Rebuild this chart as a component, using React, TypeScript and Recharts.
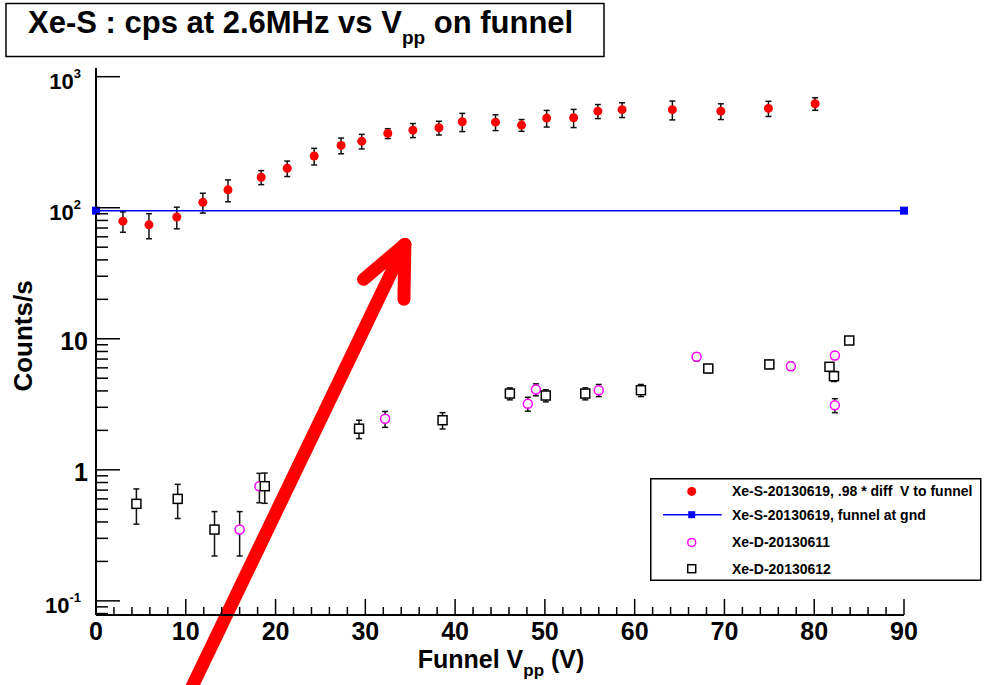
import React from 'react';
import { ScatterChart, Scatter, XAxis, YAxis, ErrorBar, ReferenceLine, Legend } from 'recharts';

const FONT = '"Liberation Sans", Arial, Helvetica, sans-serif';

// Xe-S-20130619, .98 * diff V to funnel
const redV = [3.0, 5.9, 9.0, 11.9, 14.7, 18.4, 21.3, 24.3, 27.3, 29.6, 32.5, 35.3, 38.2, 40.8, 44.5, 47.4, 50.2, 53.2, 55.9, 58.6, 64.2, 69.6, 74.9, 80.1];
const redCps = [79, 74, 85, 110, 137, 171, 200, 248, 299, 322, 369, 391, 408, 453, 450, 427, 483, 486, 546, 560, 560, 546, 573, 622];
const redErr = [14, 16, 16, 19, 26, 21, 27, 36, 41, 41, 32, 48, 49, 72, 62, 44, 70, 77, 67, 72, 92, 75, 76, 68];

// Xe-S-20130619, funnel at gnd
const gndV = [0, 90];
const gndCps = [95, 95];

// Xe-D-20130611
const d11V = [16.0, 18.2, 32.2, 48.1, 49.0, 56.0, 66.9, 77.4, 82.3, 82.3];
const d11Cps = [0.35, 0.75, 2.45, 3.19, 4.1, 4.05, 7.29, 6.18, 7.46, 3.11];
const d11Err = [0.13, 0.19, 0.34, 0.39, 0.43, 0.43, 0.5, 0.43, 0.5, 0.38];

// Xe-D-20130612
const d12V = [4.5, 9.1, 13.2, 18.8, 29.3, 38.6, 46.1, 50.1, 54.5, 60.7, 68.2, 75.0, 81.7, 82.2, 83.9];
const d12Cps = [0.55, 0.6, 0.35, 0.75, 2.06, 2.39, 3.82, 3.69, 3.82, 4.05, 5.93, 6.37, 6.11, 5.18, 9.7];
const d12Err = [0.165, 0.175, 0.13, 0.195, 0.33, 0.34, 0.4, 0.39, 0.4, 0.43, 0.42, 0.45, 0.43, 0.46, 0.5];

const legendLabels = [
  'Xe-S-20130619, .98 * diff  V to funnel',
  'Xe-S-20130619, funnel at gnd',
  'Xe-D-20130611',
  'Xe-D-20130612',
];

// axis ticks
const xMajor = [0, 10, 20, 30, 40, 50, 60, 70, 80, 90];
const xTicks = Array.from({ length: 46 }, (_, i) => i * 2);
const yMajor = [0.1, 1, 10, 100, 1000];
const yMajorBase = ['10', '1', '10', '10', '10'];
const yMajorExp = ['-1', '', '', '2', '3'];
const yTicks = [0.01, 0.1, 1, 10, 100]
  .flatMap((d) => [1, 2, 3, 4, 5, 6, 7, 8, 9].map((m) => m * d))
  .filter((v) => v >= 0.078 && v <= 100)
  .concat([1000]);

// hand-drawn arrow annotation (data coords)
const arrowTail = { x: 10.0, y: 0.0176 };
const arrowTip = { x: 34.4, y: 52.5 };
const arrowWingL = { x: 29.8, y: 28.4 };
const arrowWingR = { x: 34.3, y: 20.0 };

const toRows = (xs: number[], ys: number[], es?: number[]) =>
  xs.map((x, i) => ({ x, y: ys[i], err: es ? es[i] : 0 }));

const redData = toRows(redV, redCps, redErr);
const gndData = toRows(gndV, gndCps);
const d11Data = toRows(d11V, d11Cps, d11Err);
const d12Data = toRows(d12V, d12Cps, d12Err);

const RedDot = (p: any) => <circle cx={p.cx} cy={p.cy} r={4.5} fill="#ff0000" />;
const BlueSquare = (p: any) => <rect x={p.cx - 4} y={p.cy - 4} width={8} height={8} fill="#0000ff" />;
const OpenCircle = (p: any) => (
  <circle cx={p.cx} cy={p.cy} r={4.5} fill="#fff" stroke="#ff00ff" strokeWidth={1.5} />
);
const OpenSquare = (p: any) => (
  <rect x={p.cx - 4.5} y={p.cy - 4.5} width={9} height={9} fill="#fff" stroke="#000" strokeWidth={1.5} />
);

function XTick(props: any) {
  const { x, y, payload } = props;
  const major = xMajor.includes(payload.value);
  return (
    <g>
      <line x1={x} y1={y} x2={x} y2={y - (major ? 16 : 8)} stroke="#000" strokeWidth={1.5} />
      {major && (
        <text x={x} y={y + 25} textAnchor="middle" fontSize={25} fontWeight="bold" fontFamily={FONT} fill="#000">
          {payload.value}
        </text>
      )}
    </g>
  );
}

function YTick(props: any) {
  const { x, y, payload } = props;
  const i = yMajor.indexOf(payload.value);
  const major = i >= 0;
  return (
    <g>
      <line x1={x} y1={y} x2={x + (major ? 24 : 12)} y2={y} stroke="#000" strokeWidth={1.5} />
      {major && yMajorExp[i] === '' && (
        <text x={x - 8} y={y + 11} textAnchor="end" fontSize={25} fontWeight="bold" fontFamily={FONT} fill="#000">
          {yMajorBase[i]}
        </text>
      )}
      {major && yMajorExp[i] !== '' && (
        <text x={x - 15} y={y + 12} textAnchor="end" fontSize={22} fontWeight="bold" fontFamily={FONT} fill="#000">
          {yMajorBase[i]}
          <tspan dy={-11} fontSize={13}>{yMajorExp[i]}</tspan>
        </text>
      )}
    </g>
  );
}

function LegendBox() {
  const rowY = [13.4, 36.7, 64.4, 90.7];
  return (
    <svg width={332} height={104} style={{ display: 'block' }}>
      <rect x={0.75} y={0.75} width={330} height={101.5} fill="#fff" stroke="#000" strokeWidth={1.5} />
      <circle cx={41.7} cy={rowY[0]} r={4.5} fill="#ff0000" />
      <line x1={13} y1={rowY[1]} x2={71.7} y2={rowY[1]} stroke="#0000ff" strokeWidth={1.5} />
      <rect x={38.2} y={rowY[1] - 3.5} width={7} height={7} fill="#0000ff" />
      <circle cx={41.7} cy={rowY[2]} r={4} fill="#fff" stroke="#ff00ff" strokeWidth={1.5} />
      <rect x={37.7} y={rowY[3] - 4} width={8} height={8} fill="#fff" stroke="#000" strokeWidth={1.5} />
      {legendLabels.map((t, i) => (
        <text key={t} x={82} y={rowY[i] + 5} fontSize={14} fontWeight="bold" fontFamily={FONT} fill="#000" style={{ whiteSpace: 'pre' }}>
          {t}
        </text>
      ))}
    </svg>
  );
}

export default function App() {
  return (
    <div style={{ position: 'absolute', left: 0, top: 0, width: 984, height: 685, background: '#fff' }}>
      <ScatterChart width={984} height={685} margin={{ top: 68, right: 80, bottom: 30, left: 36 }}>
        <XAxis
          type="number"
          dataKey="x"
          domain={[0, 90]}
          ticks={xTicks}
          interval={0}
          tickSize={0}
          tickMargin={0}
          tickLine={false}
          tick={<XTick />}
          height={40}
          axisLine={{ stroke: '#000', strokeWidth: 2 }}
        />
        <XAxis
          xAxisId="top"
          orientation="top"
          type="number"
          domain={[0, 90]}
          height={0}
          tick={false}
          tickLine={false}
          axisLine={{ stroke: '#000', strokeWidth: 2 }}
        />
        <YAxis
          type="number"
          dataKey="y"
          scale="log"
          domain={[0.078, 1165]}
          ticks={yTicks}
          interval={0}
          tickSize={0}
          tickMargin={0}
          tickLine={false}
          tick={<YTick />}
          width={60}
          axisLine={{ stroke: '#000', strokeWidth: 2 }}
        />
        <YAxis
          yAxisId="right"
          orientation="right"
          type="number"
          domain={[0, 1]}
          width={0}
          tick={false}
          tickLine={false}
          axisLine={{ stroke: '#000', strokeWidth: 2 }}
        />
        <Scatter data={gndData} line={{ stroke: '#0000ff', strokeWidth: 1.5 }} shape={BlueSquare} isAnimationActive={false} />
        <Scatter data={redData} shape={RedDot} isAnimationActive={false}>
          <ErrorBar dataKey="err" direction="y" width={3} stroke="#111" strokeWidth={1.5} />
        </Scatter>
        <Scatter data={d11Data} shape={OpenCircle} isAnimationActive={false}>
          <ErrorBar dataKey="err" direction="y" width={3} stroke="#111" strokeWidth={1.5} />
        </Scatter>
        <Scatter data={d12Data} shape={OpenSquare} isAnimationActive={false}>
          <ErrorBar dataKey="err" direction="y" width={3} stroke="#111" strokeWidth={1.5} />
        </Scatter>
        <ReferenceLine segment={[arrowTail, arrowTip]} ifOverflow="visible" stroke="#ff0000" strokeWidth={13} strokeLinecap="round" />
        <ReferenceLine segment={[arrowWingL, arrowTip]} ifOverflow="visible" stroke="#ff0000" strokeWidth={13} strokeLinecap="round" />
        <ReferenceLine segment={[arrowWingR, arrowTip]} ifOverflow="visible" stroke="#ff0000" strokeWidth={13} strokeLinecap="round" />
        <Legend
          layout="horizontal"
          verticalAlign="middle"
          align="center"
          content={() => <LegendBox />}
          wrapperStyle={{ left: 650, top: 478, width: 332, height: 104 }}
        />
      </ScatterChart>
      <svg width={984} height={685} style={{ position: 'absolute', left: 0, top: 0, pointerEvents: 'none' }}>
        <rect x={6} y={3.5} width={598} height={53} fill="#fff" stroke="#000" strokeWidth={1.5} />
        <text x={28} y={33} fontSize={31} fontWeight="bold" fontFamily={FONT} fill="#000">
          Xe-S : cps at 2.6MHz vs V
          <tspan dy={11} fontSize={19}>pp</tspan>
          <tspan dy={-11}>{' on funnel'}</tspan>
        </text>
        <text x={501} y={668} textAnchor="middle" fontSize={25} fontWeight="bold" fontFamily={FONT} fill="#000">
          Funnel V
          <tspan dy={8} fontSize={17}>pp</tspan>
          <tspan dy={-8}>{' (V)'}</tspan>
        </text>
        <text transform="translate(32,336) rotate(-90)" textAnchor="middle" fontSize={26} fontWeight="bold" fontFamily={FONT} fill="#000">
          Counts/s
        </text>
      </svg>
    </div>
  );
}
